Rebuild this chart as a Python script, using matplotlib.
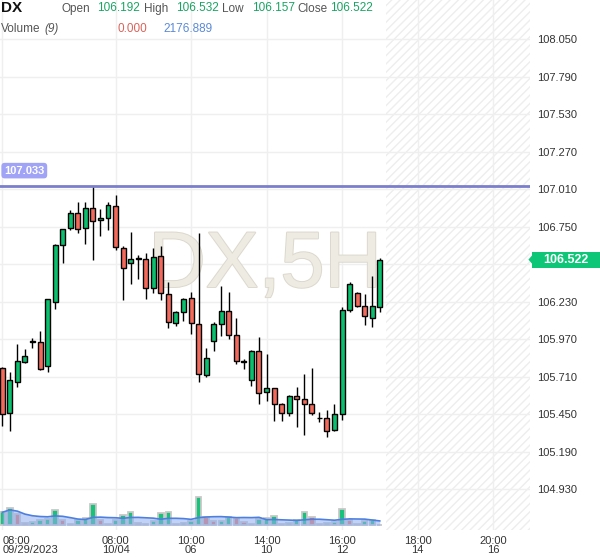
import matplotlib as mpl
mpl.use('Agg')
import matplotlib.pyplot as plt
import matplotlib.patheffects as pe
from matplotlib.patches import Rectangle, Polygon
from matplotlib.transforms import blended_transform_factory
import numpy as np
import pandas as pd

plt.rcParams['font.family'] = ['Liberation Sans', 'DejaVu Sans']

# DX, 5H candles starting 09/29/2023 08:00
opens = [105.768, 105.456, 105.675, 105.814, 105.952, 105.948, 105.786, 106.230, 106.621, 106.738,
         106.842, 106.738, 106.877, 106.794, 106.808, 106.891, 106.600, 106.500, 106.528, 106.523,
         106.327, 106.547, 106.281, 106.080, 106.156, 106.253, 106.073, 105.724, 105.955, 106.073,
         106.163, 105.996, 105.814, 105.684, 105.885, 105.601, 105.629, 105.518, 105.460, 105.573,
         105.553, 105.518, 105.423, 105.421, 105.338, 105.449, 106.170, 106.288, 106.198, 106.119,
         106.192]
highs = [105.774, 105.744, 105.934, 105.899, 105.976, 106.024, 106.248, 106.627, 106.734, 106.866,
         106.919, 106.919, 107.033, 106.870, 106.919, 106.970, 106.616, 106.715, 106.554, 106.565,
         106.600, 106.616, 106.369, 106.163, 106.258, 106.295, 106.704, 105.906, 106.089, 106.339,
         106.295, 106.114, 105.832, 105.895, 105.987, 105.865, 105.632, 105.530, 105.585, 105.638,
         105.726, 105.770, 105.467, 105.479, 105.523, 106.193, 106.369, 106.299, 106.281, 106.406,
         106.532]
lows = [105.370, 105.333, 105.640, 105.807, 105.911, 105.754, 105.744, 106.181, 106.500, 106.727,
        106.708, 106.627, 106.521, 106.688, 106.727, 106.586, 106.244, 106.350, 106.389, 106.251,
        106.288, 106.244, 106.050, 106.063, 106.098, 106.008, 105.675, 105.710, 105.890, 105.994,
        105.971, 105.800, 105.765, 105.647, 105.523, 105.543, 105.405, 105.405, 105.439, 105.358,
        105.303, 105.444, 105.393, 105.294, 105.336, 105.409, 106.158, 106.196, 106.068, 106.057,
        106.157]
closes = [105.449, 105.684, 105.816, 105.851, 105.955, 105.761, 106.246, 106.621, 106.732, 106.842,
          106.732, 106.877, 106.787, 106.808, 106.898, 106.607, 106.466, 106.523, 106.528, 106.327,
          106.537, 106.288, 106.087, 106.158, 106.246, 106.080, 105.726, 105.839, 106.073, 106.163,
          105.996, 105.816, 105.814, 105.885, 105.594, 105.629, 105.518, 105.456, 105.573, 105.553,
          105.518, 105.456, 105.423, 105.331, 105.449, 106.170, 106.350, 106.198, 106.131, 106.198,
          106.522]
volumes = [3540, 4810, 3180, 630, 820, 1360, 1820, 4270, 1550, 350,
           1360, 1990, 5900, 1360, 350, 1360, 2910, 3540, 630, 350,
           1090, 3260, 3540, 460, 630, 1090, 7700, 2180, 1090, 1280,
           2180, 2090, 820, 350, 1820, 1990, 2530, 350, 630, 1360,
           3620, 2180, 350, 630, 820, 4540, 1550, 350, 1090, 1360,
           0]

tick_idx = [0, 15, 25, 35, 45, 55, 65]
tick_labels = ['08:00\n09/29/2023', '08:00\n10/04', '10:00\n06', '14:00\n10',
               '16:00\n12', '18:00\n14', '20:00\n16']
price_ticks = [108.050, 107.790, 107.530, 107.270, 107.010, 106.750, 106.490,
               106.230, 105.970, 105.710, 105.450, 105.190, 104.930]
hline_price = 107.033
last_price = 106.522

GREEN = '#0cbf6f'
RED = '#f36a5c'

fig = plt.figure(figsize=(6, 5.58), dpi=100)
ax = fig.add_axes([0, 28 / 558, 530 / 600, 530 / 558])

n = len(opens)
x = np.arange(n)
o = np.array(opens); h = np.array(highs); l = np.array(lows); c = np.array(closes)

ax.set_xlim(-0.305, 69.9)
ax.set_ylim(104.647, 108.322)

# grid + future hatch
ax.set_xticks(tick_idx)
ax.set_xticklabels(tick_labels)
ax.set_yticks(price_ticks)
# the label under the last-price badge is hidden, as on the terminal
ax.set_yticklabels(['' if abs(p - last_price) < 0.05 else '%.3f' % p for p in price_ticks])
ax.grid(color='#efefef', lw=1)
ax.set_axisbelow(True)
for s in ax.spines.values():
    s.set_visible(False)
ax.yaxis.tick_right()
ax.tick_params(axis='y', length=0, pad=5, labelsize=8, labelcolor='#333333')
ax.tick_params(axis='x', length=0, pad=4, labelsize=8, labelcolor='#333333')
for i, lab in enumerate(ax.get_xticklabels()):
    lab.set_linespacing(0.95)
    if i == 0:
        lab.set_horizontalalignment('left')
        lab.set_multialignment('left')

ax.axvspan(n - 0.2, 70, facecolor='none', edgecolor='#eeeeee', hatch='////', linewidth=0, zorder=0.5)

# watermark
ax.text(0.5, 0.4585, 'DX,5H', transform=ax.transAxes, ha='center', va='baseline',
        fontsize=57, color='#eeebe3', zorder=1,
        path_effects=[pe.withStroke(linewidth=1.4, foreground='#dcd8cd')])

# candles
cols = np.where(c > o, GREEN, np.where(c < o, RED, 'black'))
ax.vlines(x, l, h, color='black', lw=1, zorder=3)
bottoms = np.minimum(o, c)
heights = np.maximum(np.abs(c - o), 0.004)
ax.bar(x, heights, bottom=bottoms, width=0.66, color=cols, edgecolor='black', lw=1, zorder=4)

# high line + label
ax.axhline(hline_price, color='#7b7ecb', lw=2, zorder=5)
ax.annotate('%.3f' % hline_price, xy=(0, hline_price), xycoords=('axes fraction', 'data'),
            xytext=(3, 11), textcoords='offset points', ha='left', va='center',
            fontsize=8, fontweight='bold', color='white', zorder=6,
            bbox=dict(boxstyle='round,pad=0.25,rounding_size=0.3', fc='#a0a3f6', ec='none'))

# last price badge on the axis
tr = blended_transform_factory(ax.transAxes, ax.transData)
dy = 8 / 144.2
ax.add_patch(Rectangle((1.004, last_price - dy), 0.13, 2 * dy, transform=tr,
                       fc='#0ec677', ec='none', clip_on=False, zorder=10))
ax.add_patch(Polygon([(0.997, last_price), (1.005, last_price + dy * 0.6), (1.005, last_price - dy * 0.6)],
                     closed=True, transform=tr, fc='#0ec677', ec='none', clip_on=False, zorder=10))
ax.text(1.068, last_price, '%.3f' % last_price, transform=tr, ha='center', va='center',
        fontsize=9, fontweight='bold', color='white', zorder=11)

# volume panel
vax = fig.add_axes(ax.get_position(), sharex=ax)
vax.patch.set_visible(False)
vax.axis('off')
vax.set_ylim(-1280, 142880)
vol = np.array(volumes)
prev = np.concatenate([[vol[0]], vol[:-1]])
vcols = np.where(vol >= prev, '#19c27b', '#e8756a')
vax.bar(x, vol, width=0.72, color=vcols, edgecolor='#c8c8c8', lw=1.3, zorder=2)
ma = pd.Series(vol).rolling(9, min_periods=1).mean().values
vax.fill_between(x, 0, ma, color='#8eaef0', alpha=0.55, lw=0, zorder=3)
vax.plot(x, ma, color='#4d7fe0', lw=1.2, zorder=4)

# header
def htext(px, py, s, **kw):
    fig.text(px / 600, 1 - py / 558, s, va='center', ha='left', **kw)

htext(1, 8, 'DX', fontsize=11, fontweight='bold', color='#111111')
htext(62, 9, 'Open', fontsize=8.5, color='#555555')
htext(97, 8, '106.192', fontsize=8.5, color='#19a463')
htext(144, 9, 'High', fontsize=8.5, color='#555555')
htext(176, 8, '106.532', fontsize=8.5, color='#19a463')
htext(222, 9, 'Low', fontsize=8.5, color='#555555')
htext(252, 8, '106.157', fontsize=8.5, color='#19a463')
htext(297, 9, 'Close', fontsize=8.5, color='#555555')
htext(330, 8, '106.522', fontsize=8.5, color='#19a463')
htext(1, 29, 'Volume', fontsize=8.5, color='#555555')
htext(44, 29, '(9)', fontsize=8.5, color='#555555', style='italic')
htext(117, 29, '0.000', fontsize=8.5, color='#d9625a')
htext(163, 29, '2176.889', fontsize=8.5, color='#5b8ad6')

fig.savefig('out.png', dpi=100)
